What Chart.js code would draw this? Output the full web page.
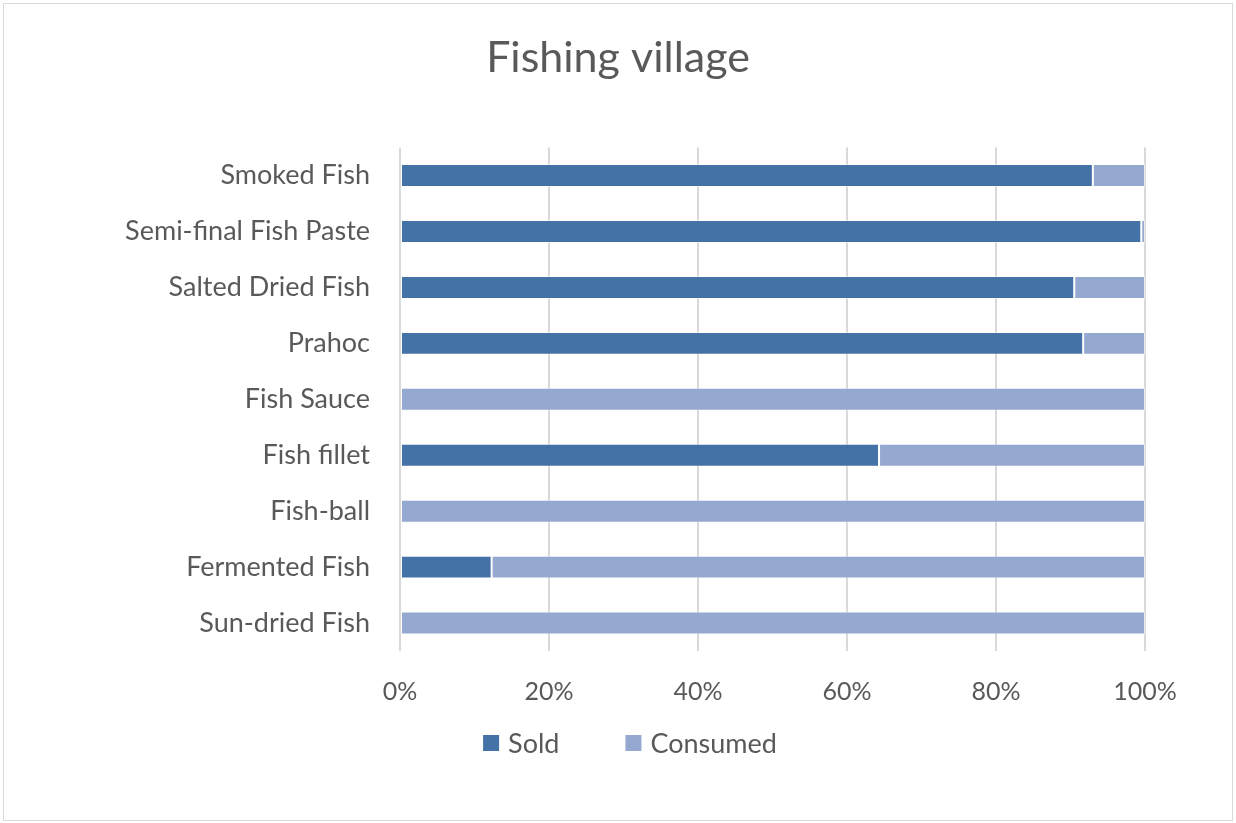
<!DOCTYPE html>
<html>
<head>
<meta charset="utf-8">
<script src="https://cdn.jsdelivr.net/npm/chart.js@4"></script>
<style>
  html, body { margin: 0; padding: 0; background: #ffffff; }
  #wrap { position: relative; width: 1236px; height: 823px; }
  #frame { position: absolute; left: 3px; top: 3px; width: 1228px; height: 816px; border: 1px solid #d9d9d9; box-sizing: content-box; }
  canvas { position: absolute; left: 0; top: 0; }
</style>
</head>
<body>
<div id="wrap">
  <div id="frame"></div>
  <canvas id="c" width="1236" height="823"></canvas>
</div>
<script>
const categories = [
  'Smoked Fish',
  'Semi-final Fish Paste',
  'Salted Dried Fish',
  'Prahoc',
  'Fish Sauce',
  'Fish fillet',
  'Fish-ball',
  'Fermented Fish',
  'Sun-dried Fish'
];
const soldShare     = [93.0, 99.5, 90.5, 91.7, 0, 64.3, 0, 12.3, 0];
const consumedShare = [7.0, 0.5, 9.5, 8.3, 100, 35.7, 100, 87.7, 100];
const xTicks = ['0%', '20%', '40%', '60%', '80%', '100%'];

const FONT = 'Lato, "Open Sans", sans-serif';
const TEXT = '#595959';
const SIDE_PAD = 91;

// Legend row under the x axis: square swatch, label, wide gap between entries
const bottomLegend = {
  id: 'bottomLegend',
  afterDraw(chart, args, opts) {
    const ctx = chart.ctx;
    ctx.save();
    ctx.font = `${opts.size}px ${FONT}`;
    ctx.textBaseline = 'middle';
    ctx.textAlign = 'left';
    const items = chart.data.datasets.map(ds => ({
      text: ds.label,
      color: ds.backgroundColor,
      w: opts.box + opts.boxGap + ctx.measureText(ds.label).width
    }));
    const total = items.reduce((s, it) => s + it.w, 0) + opts.itemGap * (items.length - 1);
    let x = opts.centerX - total / 2;
    const y = opts.y;
    items.forEach(it => {
      ctx.fillStyle = it.color;
      ctx.fillRect(x, y - opts.box / 2, opts.box, opts.box);
      ctx.fillStyle = TEXT;
      ctx.fillText(it.text, x + opts.box + opts.boxGap, y + 1);
      x += it.w + opts.itemGap;
    });
    ctx.restore();
  }
};

new Chart(document.getElementById('c'), {
  type: 'bar',
  data: {
    labels: categories,
    datasets: [
      { label: 'Sold', data: soldShare, backgroundColor: '#4472a7', borderColor: 'rgba(255,255,255,0.5)', borderWidth: 1, borderSkipped: false },
      { label: 'Consumed', data: consumedShare, backgroundColor: '#95a9d0', borderColor: 'rgba(255,255,255,0.5)', borderWidth: 1, borderSkipped: false }
    ]
  },
  options: {
    indexAxis: 'y',
    responsive: false,
    animation: false,
    devicePixelRatio: 1,
    layout: { padding: { left: SIDE_PAD, right: SIDE_PAD, top: 10, bottom: 90 } },
    datasets: { bar: { categoryPercentage: 1.0, barPercentage: 0.41 } },
    scales: {
      x: {
        stacked: true,
        min: 0,
        max: 100,
        ticks: {
          stepSize: 20,
          color: TEXT,
          font: { family: FONT, size: 25 },
          padding: 26,
          callback: (v, i) => xTicks[i]
        },
        grid: { color: '#d9d9d9', lineWidth: 2, drawTicks: false },
        border: { display: false }
      },
      y: {
        stacked: true,
        ticks: {
          color: TEXT,
          font: { family: FONT, size: 27 },
          padding: 30
        },
        grid: { display: false, drawTicks: false },
        border: { display: false },
        afterFit: (scale) => { scale.width = 400 - SIDE_PAD; }
      }
    },
    plugins: {
      title: {
        display: true,
        text: 'Fishing village',
        color: TEXT,
        font: { family: FONT, size: 43, weight: 'normal' },
        padding: { top: 22, bottom: 64 }
      },
      legend: { display: false },
      bottomLegend: { centerX: 630, y: 743, size: 27, box: 16, boxGap: 9, itemGap: 66 },
      tooltip: { enabled: false }
    }
  },
  plugins: [bottomLegend]
});
</script>
</body>
</html>
